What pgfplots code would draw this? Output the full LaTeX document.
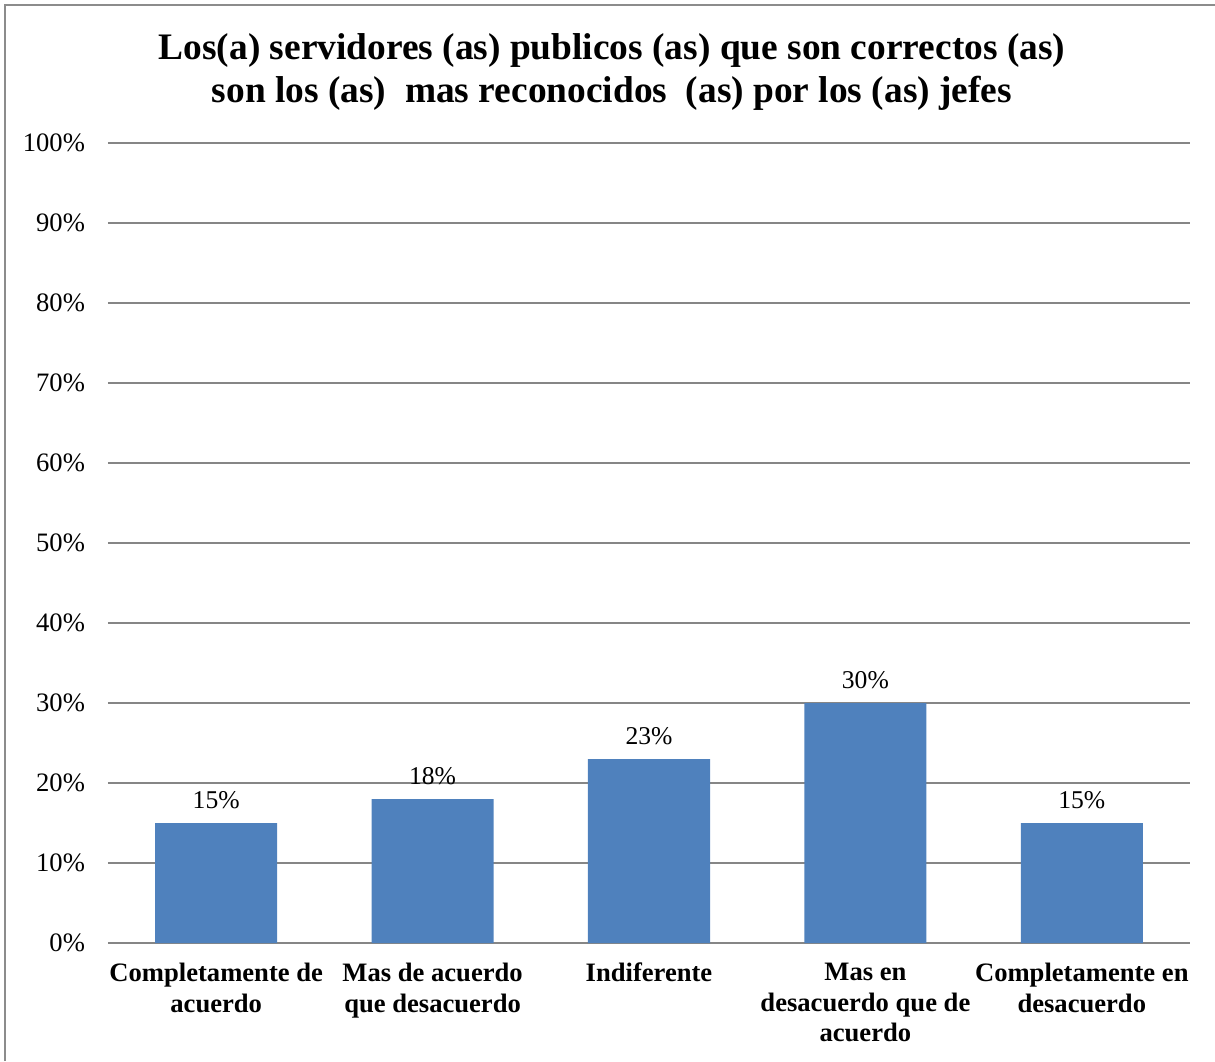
\documentclass[border=0pt]{standalone}
\usepackage{fontspec}
\setmainfont{Liberation Serif}
\usepackage{pgfplots}
\pgfplotsset{compat=1.18}
\definecolor{barblue}{HTML}{4F81BD}
\definecolor{gridgray}{HTML}{868686}
\definecolor{framegray}{HTML}{8C8C8C}
\begin{document}
\begin{tikzpicture}
% 1 px of the reference = 0.5pt
\path[use as bounding box] (0,0) rectangle (607.5pt,-530.5pt);
\draw[framegray, line width=0.8pt] (2.5pt,-530.5pt) -- (2.5pt,-2.5pt) -- (607.5pt,-2.5pt);
\node[font=\bfseries\fontsize{18.7}{21.5}\selectfont, align=center] at (306pt,-36pt)
  {Los(a) servidores (as) publicos (as) que son correctos (as)\\son los (as)\ \ mas reconocidos\ \ (as) por los (as) jefes};
\begin{axis}[
  at={(54pt,-471.5pt)}, anchor=south west,
  scale only axis, width=541pt, height=400pt,
  xmin=-0.5, xmax=4.5, ymin=0, ymax=100,
  axis line style={draw=none},
  ybar, bar width=0.564,
  ytick={0,10,...,100},
  yticklabels={0\%,10\%,20\%,30\%,40\%,50\%,60\%,70\%,80\%,90\%,100\%},
  ymajorgrids, grid style={gridgray, line width=1pt},
  major tick length=0pt,
  yticklabel style={font=\fontsize{13.3}{15}\selectfont, xshift=-8pt},
  xtick=data,
  xticklabels={{Completamente de\\acuerdo},{Mas de acuerdo\\que desacuerdo},{Indiferente},{Mas en\\desacuerdo que de\\acuerdo},{Completamente en\\desacuerdo}},
  xticklabel style={font=\bfseries\fontsize{13.3}{15.3}\selectfont, align=center, anchor=north, yshift=-6.5pt},
  /pgf/number format/assume math mode=true,
  nodes near coords={\pgfmathprintnumber\pgfplotspointmeta\%},
  every node near coord/.append style={font=\fontsize{12.8}{14}\selectfont, yshift=3.5pt},
  clip=false,
]
\addplot[fill=barblue, draw=none] coordinates {(0,15) (1,18) (2,23) (3,30) (4,15)};
\end{axis}
\end{tikzpicture}
\end{document}
